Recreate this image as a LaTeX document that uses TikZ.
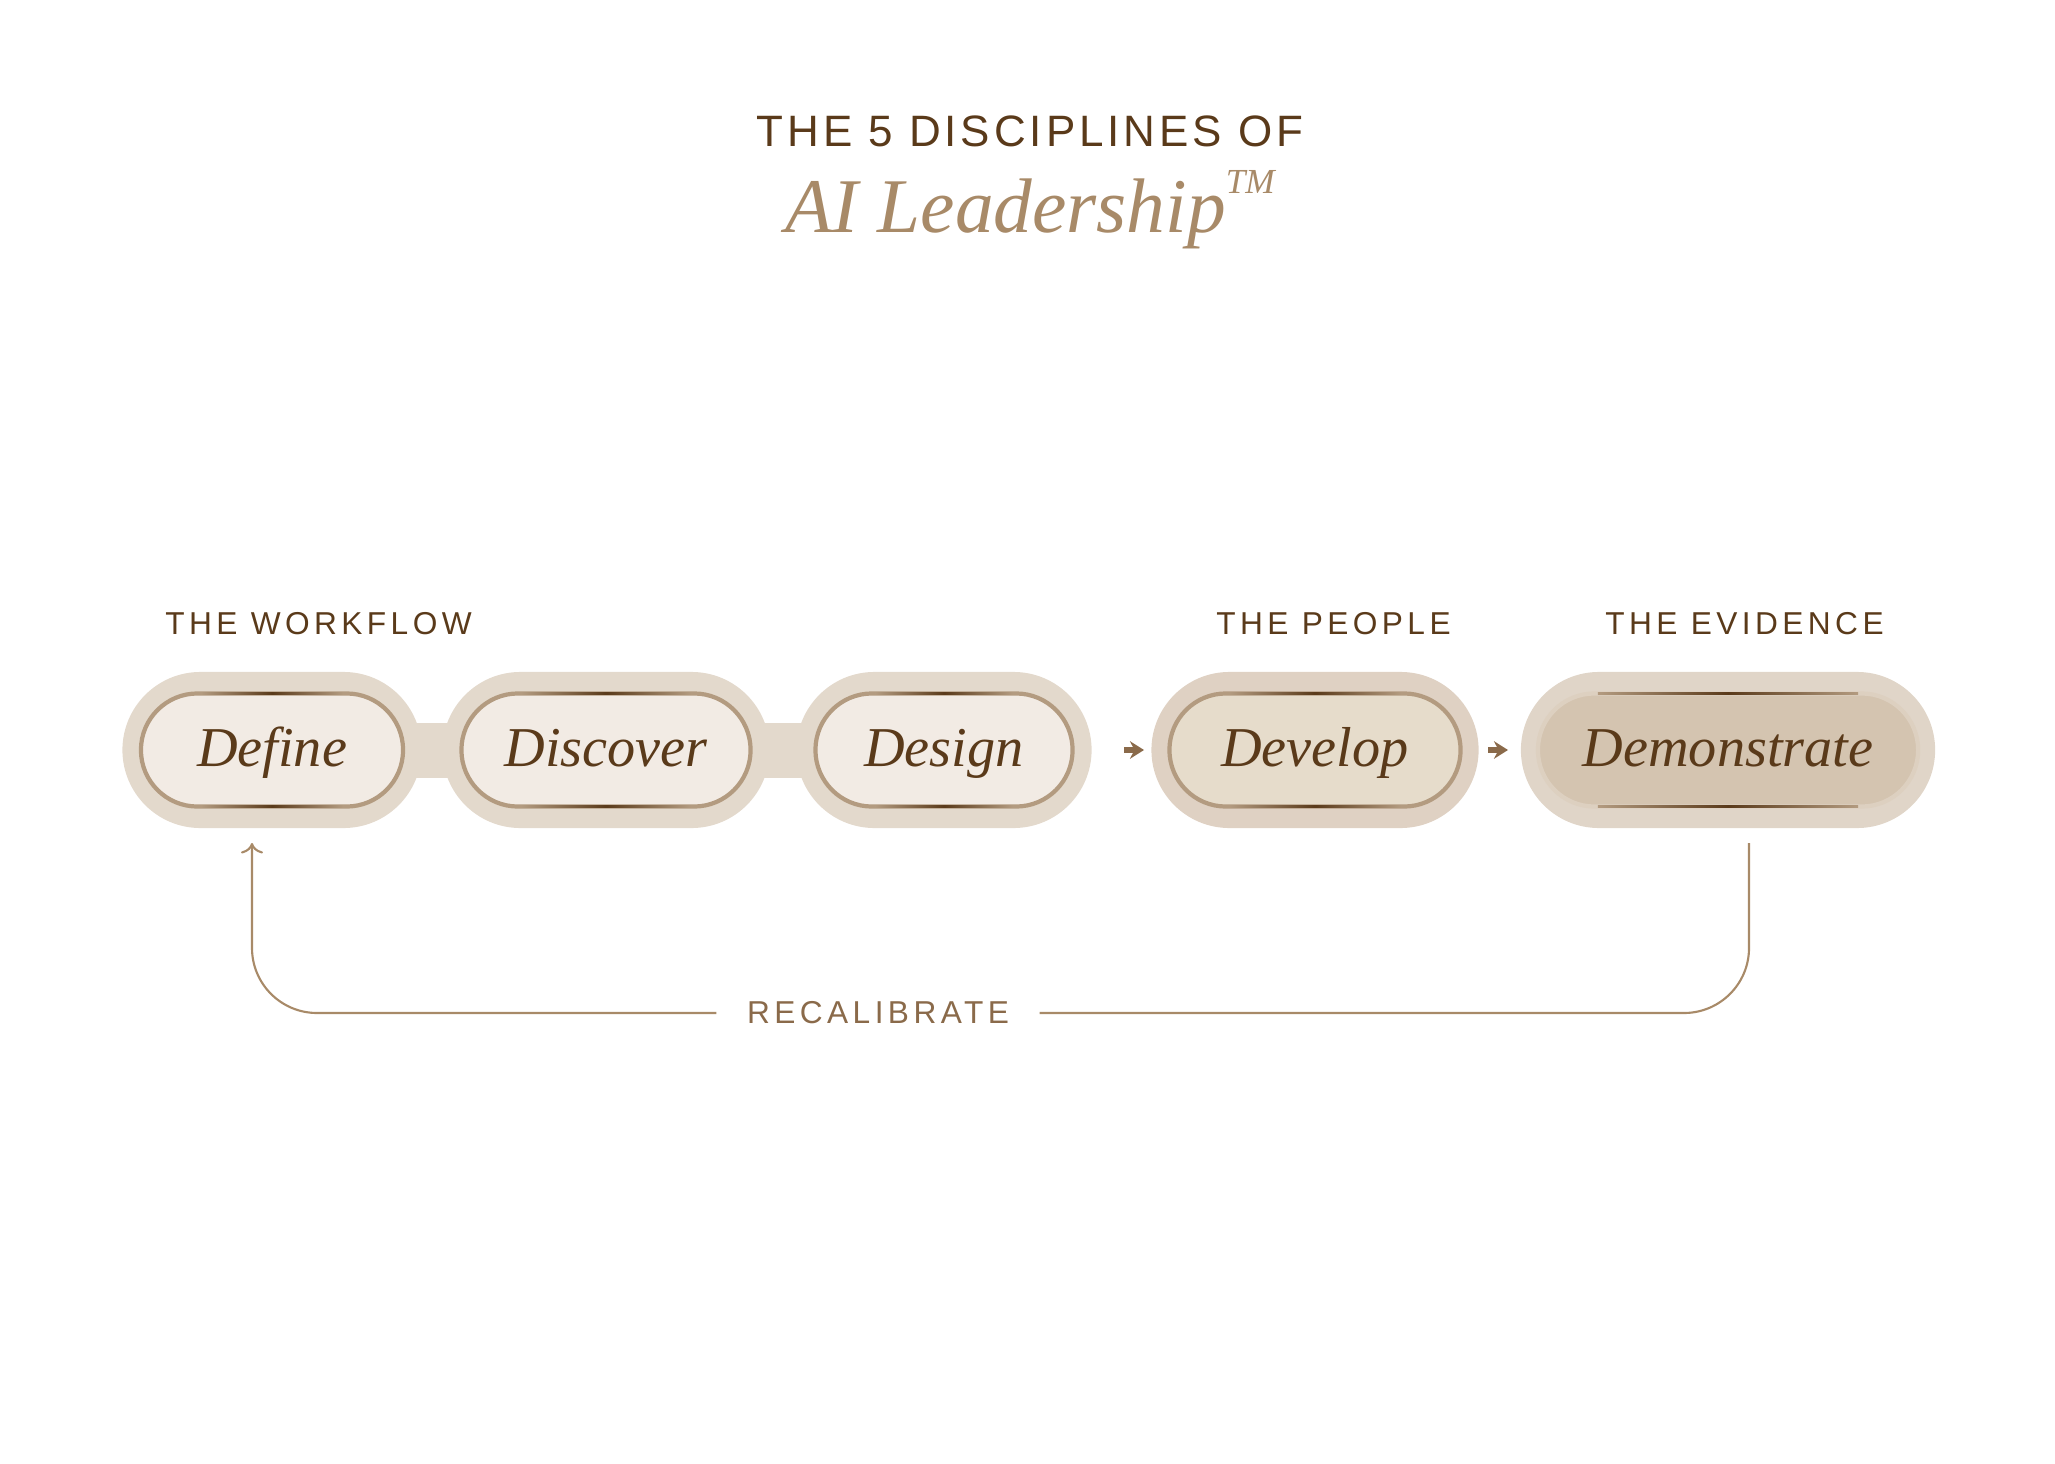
\documentclass[tikz,border=0pt]{standalone}
\usepackage{fontspec}
\setmainfont{Liberation Serif}
\newfontfamily\labelfont[LetterSpace=14]{Liberation Sans}
\newfontfamily\titlefont[LetterSpace=9]{Liberation Sans}
\usetikzlibrary{arrows.meta, positioning, calc}
\definecolor{aibrown}{HTML}{5A3A1A}
\definecolor{aitan}{HTML}{A88A68}
\definecolor{aimid}{HTML}{8A6A4A}
\definecolor{aiouter}{HTML}{E3D9CC}
\definecolor{aiinner}{HTML}{F2EBE4}
\definecolor{aiedge}{HTML}{B39B80}
\definecolor{aidevin}{HTML}{E6DCCB}
\definecolor{aidevout}{HTML}{DFD1C3}
\definecolor{aidemin}{HTML}{D4C4B0}
\definecolor{aidemout}{HTML}{E0D5C8}
\tikzset{
  outer/.style={fill=aiouter, rounded corners=0.78cm, minimum height=1.56cm, inner sep=0pt},
  inner/.style={fill=aiinner, draw=aiedge, line width=1.2pt, rounded corners=0.565cm,
    minimum height=1.13cm, inner sep=0pt, outer sep=0pt, text height=2.4ex, text depth=0.3ex,
    text=aibrown, font=\fontsize{16}{19}\selectfont\itshape},
  group/.style={text=aibrown, font=\labelfont\fontsize{9}{11}\selectfont, anchor=base west},
  flowarrow/.style={-{Stealth[length=4pt,width=5pt]}, aimid, line width=1.5pt},
}
\newcommand{\glint}[1]{%
  \shade[left color=aiedge, right color=aiedge, middle color=aibrown]
    ($(#1.north west)+(60,-1.2)$) rectangle ($(#1.north east)+(-60,1.2)$);
  \shade[left color=aiedge, right color=aiedge, middle color=aibrown]
    ($(#1.south west)+(60,-1.2)$) rectangle ($(#1.south east)+(-60,1.2)$);}
\begin{document}
\begin{tikzpicture}[x=0.01cm, y=-0.01cm]
\useasboundingbox (0,0) rectangle (2055,1464);

% Title
\node (title) at (1030,131) {\titlefont\fontsize{12.5}{15}\selectfont\color{aibrown}THE 5 DISCIPLINES OF};
\node (brand) at (1030,210) {\fontsize{22}{26}\selectfont\itshape\color{aitan}AI Leadership\raisebox{1.1ex}{\fontsize{10}{10}\selectfont TM}};

% Bridge of the workflow group
\fill[aiouter] (300,723) rectangle (900,778);

% Outer pills
\node[outer, minimum width=2.99cm] (o1) at (272,750) {};
\node[outer, minimum width=3.27cm] (o2) at (606,750) {};
\node[outer, minimum width=2.95cm] (o3) at (944,750) {};
\node[outer, fill=aidevout, minimum width=3.27cm] (o4) at (1315,750) {};
\node[outer, fill=aidemout, minimum width=4.14cm] (o5) at (1728,750) {};

% Inner pills
\node[inner, minimum width=2.62cm] (define) at (o1) {Define};
\node[inner, minimum width=2.89cm] (discover) at (o2) {Discover};
\node[inner, minimum width=2.57cm] (design) at (o3) {Design};
\node[inner, fill=aidevin, minimum width=2.91cm] (develop) at (o4) {Develop};
\node[inner, fill=aidemin, draw=aidemin!80!white, minimum width=3.80cm] (demo) at (o5) {Demonstrate};
\foreach \n in {define, discover, design, develop, demo} {\glint{\n}}

% Groups
\node[group] (work) at (153,634) {THE WORKFLOW};
\node[group] (people) at (1204,634) {THE PEOPLE};
\node[group] (evid) at (1593,634) {THE EVIDENCE};

% Steps
\coordinate (a1) at (1124,750); \coordinate (a2) at (1144,750);
\coordinate (b1) at (1488,750); \coordinate (b2) at (1508,750);
\draw[flowarrow] (a1) -- (a2);
\draw[flowarrow] (b1) -- (b2);

% Loop back
\node[text=aimid, font=\labelfont\fontsize{9}{11}\selectfont, inner xsep=0.3cm] (recal) at (878,1013) {RECALIBRATE};
\coordinate (ls) at (1749,843);
\coordinate (le) at (252,843);
\draw[aitan, line width=0.6pt, rounded corners=0.65cm] (ls) |- (recal.east);
\draw[aitan, line width=0.6pt, rounded corners=0.65cm, -{To[length=3pt]}] (recal.west) -| (le);
\end{tikzpicture}
\end{document}
